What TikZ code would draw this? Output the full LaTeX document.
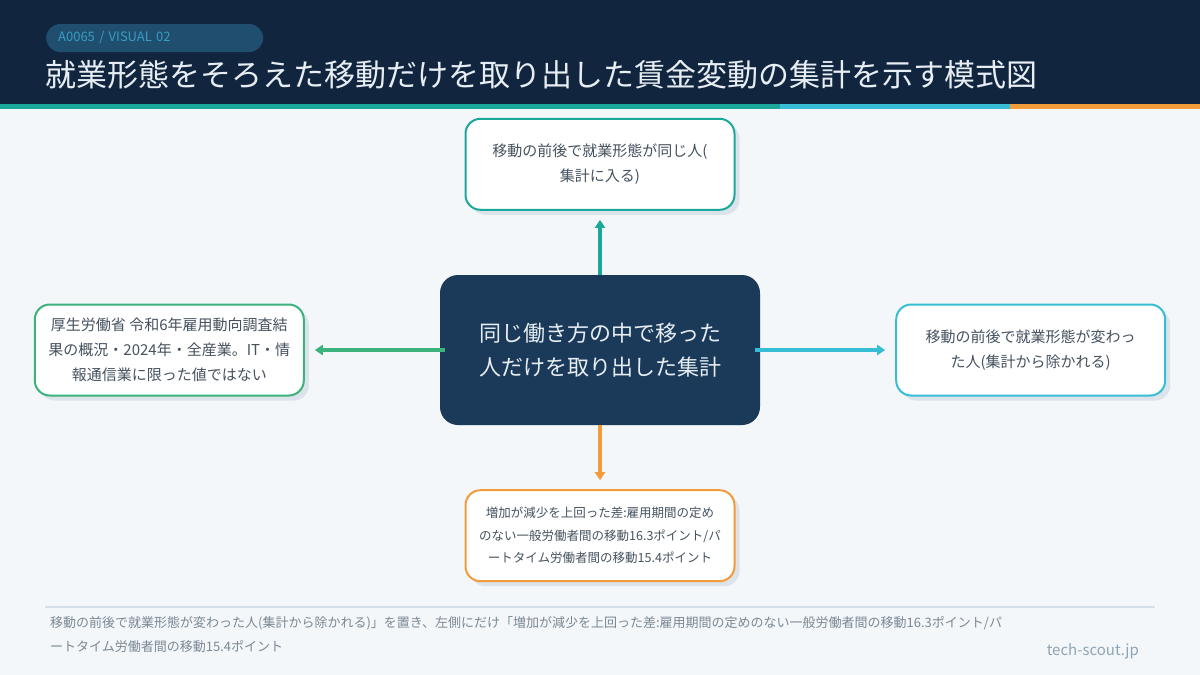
\documentclass[tikz,border=0pt]{standalone}
\usepackage{fontspec}
\setmainfont{Noto Sans CJK JP}
\usepackage{xcolor}
\usepackage{tikz}
\usetikzlibrary{positioning,arrows.meta,shadows}
\definecolor{pagebg}{HTML}{F3F7FA}
\definecolor{headnavy}{HTML}{11253F}
\definecolor{pillblue}{HTML}{1F4E6E}
\definecolor{pilltext}{HTML}{3A9CC4}
\definecolor{titlewhite}{HTML}{E6EDF3}
\definecolor{myteal}{HTML}{1AA89B}
\definecolor{mysky}{HTML}{38BDD6}
\definecolor{myorange}{HTML}{F39B38}
\definecolor{mygreen}{HTML}{3CB27C}
\definecolor{hubblue}{HTML}{1B3A59}
\definecolor{shadowgray}{HTML}{DCE3EA}
\definecolor{inktext}{HTML}{46525F}
\definecolor{rulegray}{HTML}{D5DFE7}
\definecolor{notegray}{HTML}{7B8893}
\definecolor{brandgray}{HTML}{8FA5B5}

\begin{document}
\begin{tikzpicture}[
      x=1pt, y=-1pt,
      node distance = 64pt and 135pt,
      card/.style = {draw, line width=2pt, rounded corners=15pt, fill=white,
                     minimum width=269pt, minimum height=91pt, align=center,
                     text=inktext, font=\fontsize{15}{25}\selectfont,
                     general shadow={fill=shadowgray, shadow xshift=5pt, shadow yshift=-5pt}},
      hub/.style = {fill=hubblue, rounded corners=18pt, minimum width=320pt,
                    minimum height=150pt, align=center, text=titlewhite,
                    font=\fontsize{22}{34}\selectfont},
      arr/.style = {-{Triangle[width=10pt,length=8pt]}, line width=3.5pt},
    ]
    \fill[pagebg] (0,0) rectangle (1200,675);
    \fill[headnavy] (0,0) rectangle (1200,104);
    \fill[myteal] (0,104) rectangle (780,109);
    \fill[mysky] (780,104) rectangle (1010,109);
    \fill[myorange] (1010,104) rectangle (1200,109);

    \node[fill=pillblue, rounded corners=14pt, anchor=west, minimum height=28pt,
          text width=193pt, inner xsep=12pt, align=left, text=pilltext,
          font=\fontsize{13}{15}\selectfont] (tag) at (46,38) {A0065 / VISUAL 02};
    \node[anchor=base west, inner sep=0pt, text=titlewhite,
          font=\fontsize{31}{36}\selectfont] (title) at (45,86)
      {就業形態をそろえた移動だけを取り出した賃金変動の集計を示す模式図};

    \node[hub] (hub) at (600,350) {同じ働き方の中で移った\\人だけを取り出した集計};
    \node[card, draw=myteal, above=of hub] (same) {移動の前後で就業形態が同じ人(\\集計に入る)};
    \node[card, draw=mygreen, left=of hub] (source)
      {厚生労働省 令和6年雇用動向調査結\\果の概況・2024年・全産業。IT・情\\報通信業に限った値ではない};
    \node[card, draw=mysky, right=of hub] (changed) {移動の前後で就業形態が変わっ\\た人(集計から除かれる)};
    \node[card, draw=myorange, below=of hub, font=\fontsize{12.5}{22.5}\selectfont] (gap)
      {増加が減少を上回った差:雇用期間の定め\\のない一般労働者間の移動16.3ポイント/パ\\ートタイム労働者間の移動15.4ポイント};

    \draw[arr, myteal, shorten >=9pt] (hub.north) -- (same.south);
    \draw[arr, mygreen, shorten <=-5pt, shorten >=10pt] (hub.west) -- (source.east);
    \draw[arr, mysky, shorten <=-5pt, shorten >=10pt] (hub.east) -- (changed.west);
    \draw[arr, myorange, shorten >=9pt] (hub.south) -- (gap.north);

    \draw[rulegray, line width=2pt] (45,607) -- (1155,607);
    \node[anchor=base west, inner sep=0pt, align=left, text=notegray,
          font=\fontsize{13}{24}\selectfont] (note) at (50,651)
      {移動の前後で就業形態が変わった人(集計から除かれる)」を置き、左側にだけ「増加が減少を上回った差:雇用期間の定めのない一般労働者間の移動16.3ポイント/パ\\ートタイム労働者間の移動15.4ポイント};
    \node[anchor=east, inner sep=0pt, text=brandgray,
          font=\fontsize{15}{18}\selectfont] (brand) at (1139,651) {tech-scout.jp};
  \end{tikzpicture}
\end{document}
